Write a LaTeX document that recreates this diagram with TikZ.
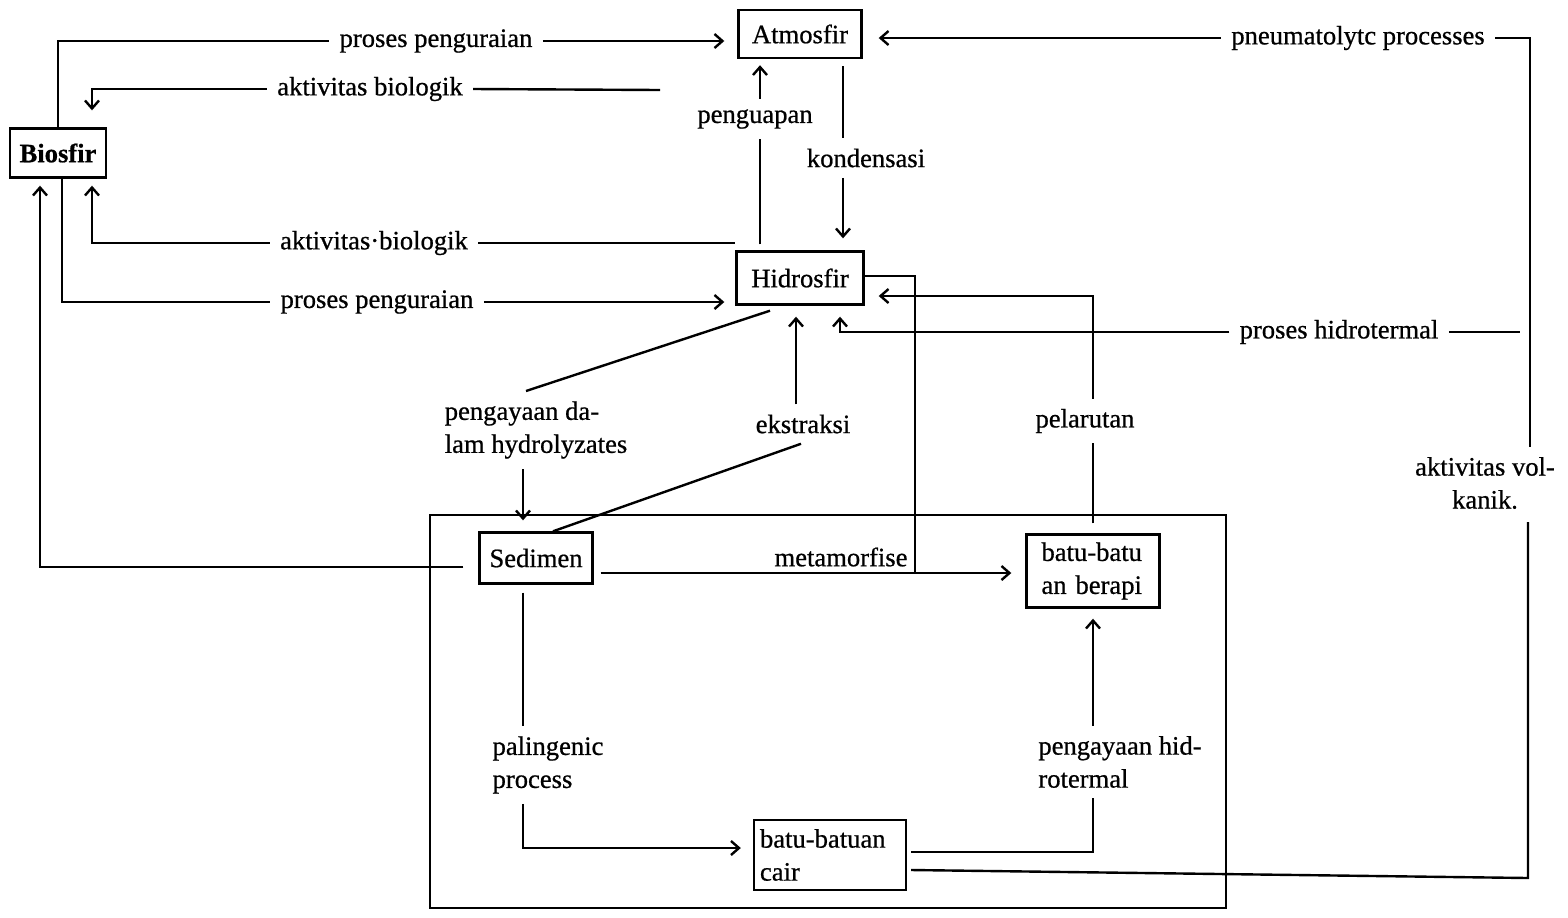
\documentclass[tikz,border=0pt]{standalone}
\usepackage{fontspec}
\setmainfont{Liberation Serif}[FakeBold=0.7]
\usetikzlibrary{arrows.meta,calc}
\begin{document}
\begin{tikzpicture}[x=0.5pt,y=-0.5pt,
  txt/.style={font=\fontsize{13.3}{16.5}\selectfont},
  box/.style={txt,draw,line width=1.2pt,inner sep=0pt},
  lab/.style={txt,inner sep=5pt},
  ln/.style={line width=1.2pt},
  ar/.style={line width=1.2pt,-{Straight Barb[length=4pt,width=7pt,line width=1.2pt]}}]
\useasboundingbox (0,0) rectangle (1568,917);

% boxes
\node[box,minimum width=61.5pt,minimum height=24pt] (atm) at (800,34) {Atmosfir};
\node[box,minimum width=48pt,minimum height=24.5pt] (bios) at (58,153) {\bfseries Biosfir};
\node[box,minimum width=63.5pt,minimum height=26.5pt] (hid) at (800,278) {Hidrosfir};
\node[box,minimum width=56.5pt,minimum height=25.5pt] (sed) at (536,558) {Sedimen};
\node[box,minimum width=66.5pt,minimum height=36.5pt,text width=51.5pt,align=left] (bb) at (1093,571) {batu-batu\\an berapi};
\node[box,minimum width=76pt,minimum height=35pt,text width=70pt,align=left] (cair) at (830,855) {batu-batuan\\cair};

% big frame
\draw[ln] (430,515) rectangle (1226,908);

% labels
\node[lab] (pp1) at (436,41) {proses penguraian};
\node[lab] (ab1) at (370,89) {aktivitas biologik};
\node[lab] (pneu) at (1358,38) {pneumatolytc processes};
\node[lab,align=center] (volk) at (1485,483) {aktivitas vol-\\kanik.};
\node[lab] (hidro) at (1339,332) {proses hidrotermal};
\node[lab] (peng) at (755,119) {penguapan};
\node[lab] (kond) at (866,158) {kondensasi};
\node[lab] (ab2) at (374,243) {aktivitas·biologik};
\node[lab] (pp2) at (377,302) {proses penguraian};
\node[lab,align=left] (hyd) at (536,430) {pengayaan da-\\lam hydrolyzates};
\node[lab] (ekst) at (803,424) {ekstraksi};
\node[lab] (meta) at (841,557) {metamorfise};
\node[lab] (pel) at (1085,421) {pelarutan};
\node[lab,align=left] (phid) at (1120,762) {pengayaan hid-\\rotermal};
\node[lab,align=left] (pal) at (548,765) {palingenic\\process};

% helper coordinates
\coordinate (ab1r) at (660,90);
\coordinate (vt) at (1530,447);
\coordinate (vb) at (1528,522);
\coordinate (vc) at (1528,878);
\coordinate (mx) at (915,0);
\coordinate (s1) at ($(sed.east)+(0,15)$);
\coordinate (h2) at ($(hid.east)+(0,18)$);
\coordinate (c1) at ($(cair.east)+(4,15)$);
\coordinate (c2) at ($(cair.east)+(4,-3)$);
\coordinate (sl) at ($(sed.west)+(-15,9)$);
\coordinate (cw) at ($(cair.west)+(0,-7)$);

% Biosfir -> Atmosfir (proses penguraian)
\draw[ln] (bios.north) |- (pp1.west);
\draw[ar,shorten >=6.5pt] (pp1.east) -- (pp1.east -| atm.west);

% aktivitas biologik (top) -> Biosfir
\draw[ln] (ab1r) -- (ab1.east);
\draw[ar,shorten >=8.5pt] (ab1.west) -| ([xshift=17pt]bios.north);

% pneumatolytic processes
\draw[ar,shorten >=8pt] (pneu.west) -- (pneu.west -| atm.east);
\draw[ln] (pneu.east) -| (vt);
\draw[ln] (vb) -- (vc) -- (c1);

% proses hidrotermal
\draw[ln,shorten >=5pt] (hidro.east) -- (hidro.east -| vt);
\draw[ar,shorten >=5.5pt] (hidro.west) -| ([xshift=20pt]hid.south);

% penguapan
\draw[ln,shorten <=3pt] ([xshift=-20pt]hid.north) -- ([xshift=-20pt]hid.north |- peng.south);
\draw[ar,shorten >=3pt] ([xshift=-20pt]hid.north |- peng.north) -- ([xshift=-20pt]atm.south);

% kondensasi
\draw[ln,shorten <=3.5pt] ([xshift=21.5pt]atm.south) -- ([xshift=21.5pt]atm.south |- kond.north);
\draw[ar,shorten >=6pt] ([xshift=21.5pt]atm.south |- kond.south) -- ([xshift=21.5pt]hid.north);

% Sedimen -> Biosfir
\draw[ar,shorten >=3.5pt] (sl) -| ([xshift=-9pt]bios.south);

% Biosfir -> Hidrosfir (proses penguraian)
\draw[ln] ([xshift=2pt]bios.south) |- (pp2.west);
\draw[ar,shorten >=5.5pt] (pp2.east) -- (pp2.east -| hid.west);

% Hidrosfir -> Biosfir (aktivitas biologik)
\draw[ar,shorten >=3.5pt] (ab2.west) -| ([xshift=17pt]bios.south);
\draw[ln] (ab2.east) -- (ab2.east -| hid.west);

% Hidrosfir -> Sedimen (pengayaan dalam hydrolyzates)
\draw[ln] ([xshift=-15pt,yshift=-2.5pt]hid.south) -- ([xshift=-5pt]hyd.north);
\draw[ar,shorten >=5.5pt] ([xshift=-6.5pt]sed.north |- hyd.south) -- ([xshift=-6.5pt]sed.north);

% Sedimen -> Hidrosfir (ekstraksi)
\draw[ln] ([xshift=8.5pt]sed.north) -- ([xshift=-1pt]ekst.south);
\draw[ar,shorten >=5.5pt] ([xshift=-2pt]hid.south |- ekst.north) -- ([xshift=-2pt]hid.south);

% metamorfise
\draw[ar,shorten <=3.5pt,shorten >=7pt] (s1) -- (s1 -| bb.west);
\draw[ln] ([yshift=1pt]hid.east) -| (s1 -| mx);

% pelarutan
\draw[ln,shorten <=5pt] (bb.north) -- (bb.north |- pel.south);
\draw[ar,shorten >=7pt] (bb.north |- pel.north) |- (h2);

% pengayaan hidrotermal
\draw[ar,shorten >=5pt] (bb.south |- phid.north) -- (bb.south);
\draw[ln] (c2) -| (bb.south |- phid.south);

% palingenic process
\draw[ln,shorten <=4pt] ([xshift=-6.5pt]sed.south) -- ([xshift=-6.5pt]sed.south |- pal.north);
\draw[ar,shorten >=6pt] ([xshift=-6.5pt]sed.south |- pal.south) |- (cw);
\end{tikzpicture}
\end{document}
